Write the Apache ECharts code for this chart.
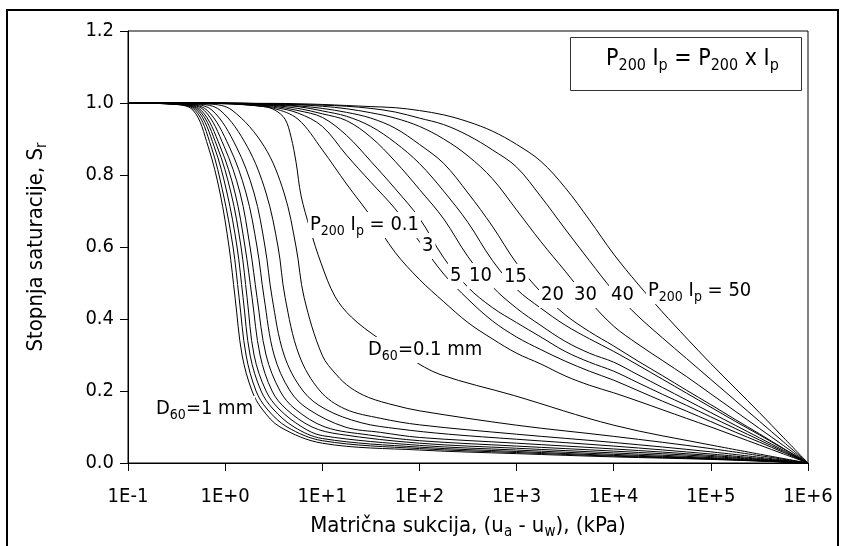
<!DOCTYPE html>
<html><head><meta charset="utf-8">
<script src="https://cdn.jsdelivr.net/npm/echarts@6/dist/echarts.min.js"></script>
<style>html,body{margin:0;padding:0;background:#fff}#c{width:846px;height:546px}</style>
</head><body><div id="c"></div>
<script>
const FONT = "'DejaVu Sans Condensed', 'Liberation Sans', sans-serif";

// tick labels
const xTickLabels = ['1E-1','1E+0','1E+1','1E+2','1E+3','1E+4','1E+5','1E+6'];
const yTickValues = [0, 0.2, 0.4, 0.6, 0.8, 1.0, 1.2];

// D60 family: [suction kPa, Sr]  (d1 = D60 1 mm ... d11 = D60 0.1 mm)
const d1 = [[0.1,1],[0.271,0.997],[0.467,0.98],[0.667,0.88],[0.886,0.75],[1.097,0.6],[1.265,0.46],[1.493,0.3],[1.892,0.2],[2.399,0.15],[3.677,0.1],[10,0.055],[100,0.036],[1000,0.026],[1e4,0.017],[1e5,0.01],[1e6,0]];
const d2 = [[0.1,1],[0.284,0.997],[0.49,0.98],[0.716,0.88],[0.952,0.75],[1.206,0.6],[1.391,0.46],[1.641,0.3],[2.081,0.2],[2.701,0.15],[4.341,0.1],[10,0.062],[100,0.04],[1000,0.029],[1e4,0.019],[1e5,0.011],[1e6,0]];
const d3 = [[0.1,1],[0.298,0.997],[0.514,0.98],[0.769,0.88],[1.046,0.75],[1.326,0.6],[1.529,0.46],[1.805,0.3],[2.343,0.2],[3.114,0.15],[5.125,0.1],[10,0.068],[100,0.044],[1000,0.032],[1e4,0.021],[1e5,0.012],[1e6,0]];
const d4 = [[0.1,1],[0.312,0.997],[0.538,0.98],[0.825,0.88],[1.15,0.75],[1.458,0.6],[1.681,0.46],[1.984,0.3],[2.637,0.2],[3.591,0.15],[6.194,0.1],[10,0.076],[100,0.049],[1000,0.036],[1e4,0.024],[1e5,0.013],[1e6,0]];
const d5 = [[0.1,1],[0.327,0.997],[0.565,0.98],[0.886,0.88],[1.265,0.75],[1.603,0.6],[1.892,0.46],[2.288,0.3],[3.041,0.2],[4.24,0.15],[7.852,0.1],[15,0.08],[100,0.055],[1000,0.041],[1e4,0.028],[1e5,0.015],[1e6,0]];
const d6 = [[0.1,1],[0.351,0.997],[0.606,0.98],[0.974,0.88],[1.424,0.75],[1.805,0.6],[2.131,0.46],[2.637,0.3],[3.677,0.2],[5.248,0.15],[10.69,0.1],[30,0.078],[100,0.062],[1000,0.047],[1e4,0.033],[1e5,0.018],[1e6,0]];
const d7 = [[0.1,1],[0.377,0.997],[0.651,0.98],[1.097,0.88],[1.641,0.75],[2.131,0.6],[2.515,0.46],[3.189,0.3],[4.661,0.2],[7.142,0.15],[17.17,0.1],[40,0.085],[100,0.071],[1000,0.055],[1e4,0.039],[1e5,0.021],[1e6,0]];
const d8 = [[0.1,1],[0.425,0.997],[0.733,0.98],[1.295,0.88],[1.984,0.75],[2.576,0.6],[3.041,0.46],[4.043,0.3],[6.343,0.2],[10.69,0.15],[25,0.112],[60,0.095],[200,0.08],[1000,0.066],[1e4,0.047],[1e5,0.025],[1e6,0]];
const d9 = [[0.1,1],[0.514,0.997],[0.886,0.98],[1.681,0.88],[2.637,0.75],[3.506,0.6],[4.14,0.46],[5.77,0.3],[9.491,0.2],[17.17,0.15],[40,0.124],[100,0.106],[1000,0.08],[1e4,0.057],[1e5,0.031],[1e6,0]];
const d10 = [[0.1,1],[0.683,0.997],[1.178,0.98],[2.515,0.88],[4.043,0.75],[5.374,0.6],[6.494,0.46],[9.953,0.3],[14,0.245],[19.33,0.21],[30,0.182],[56.21,0.16],[100,0.145],[1000,0.105],[1e4,0.074],[1e5,0.04],[1e6,0]];
const d11 = [[0.1,1],[1,0.998],[2.5,0.99],[3.265,0.98],[4.14,0.955],[4.772,0.905],[5.374,0.835],[6.05,0.742],[7.486,0.65],[9.719,0.555],[13.55,0.462],[20,0.405],[37.6,0.347],[80,0.29],[163,0.246],[925,0.188],[1e4,0.105],[1e5,0.05],[1e6,0]];

// P200*Ip family: Sr read at a common suction grid (kPa)
const pSuction = [0.1, 0.316, 1, 1.778, 3.162, 5.623, 10, 17.78, 31.62, 56.23, 100, 177.8, 316.2, 562.3, 1000, 1778, 3162, 5623, 1e4, 17783, 31623, 56234, 1e5, 177828, 316228, 562341, 1e6];
const p01 = [1, 1, 0.998, 0.994, 0.985, 0.955, 0.87, 0.775, 0.685, 0.585, 0.51, 0.448, 0.39, 0.345, 0.305, 0.275, 0.242, 0.216, 0.195, 0.172, 0.148, 0.124, 0.1, 0.075, 0.05, 0.025, 0];
const p3  = [1, 1, 0.999, 0.995, 0.988, 0.972, 0.935, 0.855, 0.78, 0.706, 0.615, 0.525, 0.455, 0.395, 0.35, 0.315, 0.283, 0.255, 0.23, 0.201, 0.172, 0.144, 0.115, 0.086, 0.058, 0.029, 0];
const p5  = [1, 1, 0.999, 0.996, 0.991, 0.979, 0.96, 0.91, 0.838, 0.762, 0.68, 0.57, 0.488, 0.432, 0.39, 0.35, 0.31, 0.28, 0.255, 0.223, 0.191, 0.16, 0.128, 0.096, 0.064, 0.032, 0];
const p10 = [1, 1, 0.999, 0.997, 0.993, 0.985, 0.97, 0.951, 0.905, 0.838, 0.76, 0.678, 0.573, 0.49, 0.43, 0.382, 0.338, 0.305, 0.28, 0.245, 0.21, 0.175, 0.14, 0.105, 0.07, 0.035, 0];
const p15 = [1, 1, 0.999, 0.997, 0.994, 0.99, 0.978, 0.963, 0.935, 0.89, 0.832, 0.755, 0.668, 0.563, 0.483, 0.43, 0.383, 0.345, 0.31, 0.272, 0.233, 0.194, 0.155, 0.116, 0.078, 0.039, 0];
const p20 = [1, 1, 0.999, 0.998, 0.996, 0.992, 0.985, 0.974, 0.958, 0.93, 0.885, 0.832, 0.75, 0.658, 0.555, 0.475, 0.412, 0.365, 0.325, 0.283, 0.243, 0.202, 0.162, 0.121, 0.081, 0.04, 0];
const p30 = [1, 1, 1, 0.999, 0.997, 0.995, 0.991, 0.984, 0.973, 0.958, 0.935, 0.9, 0.853, 0.79, 0.703, 0.615, 0.533, 0.45, 0.38, 0.33, 0.285, 0.24, 0.192, 0.144, 0.096, 0.048, 0];
const p40 = [1, 1, 1, 0.999, 0.998, 0.996, 0.994, 0.991, 0.985, 0.975, 0.958, 0.94, 0.91, 0.87, 0.822, 0.74, 0.65, 0.562, 0.477, 0.408, 0.348, 0.29, 0.232, 0.174, 0.116, 0.058, 0];
const p50 = [1, 1, 1, 0.999, 0.999, 0.998, 0.996, 0.993, 0.99, 0.987, 0.979, 0.967, 0.948, 0.922, 0.885, 0.838, 0.765, 0.675, 0.58, 0.497, 0.42, 0.347, 0.276, 0.208, 0.14, 0.07, 0];

// curve annotation texts
const curveLabels = [
  {t:'P{s|200} I{s|p} = 0.1', x:308, y:225},
  {t:'3', x:420, y:246},
  {t:'5', x:448, y:276},
  {t:'10', x:467, y:276},
  {t:'15', x:502, y:277},
  {t:'20', x:539, y:295},
  {t:'30', x:572, y:295},
  {t:'40', x:609, y:295},
  {t:'P{s|200} I{s|p} = 50', x:646, y:291},
  {t:'D{s|60}=0.1 mm', x:366, y:350},
  {t:'D{s|60}=1 mm', x:154, y:409}
];
const legendText = 'P{s|200} I{s|p} = P{s|200} x I{s|p}';

const dCurves = [d1,d2,d3,d4,d5,d6,d7,d8,d9,d10,d11];
const pCurves = [p01,p3,p5,p10,p15,p20,p30,p40,p50];

const rich = { s: { fontSize: 14, lineHeight: 14, verticalAlign: 'bottom', fontFamily: FONT, fill: '#000', color: '#000' } };
const richBig = { s: { fontSize: 16, lineHeight: 16, verticalAlign: 'bottom', fontFamily: FONT, fill: '#000', color: '#000' } };
const richName = { s: { fontSize: 15, lineHeight: 15, verticalAlign: 'bottom', fontFamily: FONT, fill: '#000', color: '#000' } };

const chart = echarts.init(document.getElementById('c'), null, {renderer: 'canvas'});

const lineBase = {type: 'line', symbol: 'none', showSymbol: false, smooth: 0.35,
  lineStyle: {color: '#000', width: 1}, silent: true, animation: false, z: 2};
const series = dCurves.map(c => Object.assign({}, lineBase, {data: c}))
  .concat(pCurves.map(ys => Object.assign({}, lineBase, {data: pSuction.map((s, i) => [s, ys[i]])})));

const graphics = [
  {type: 'rect', shape: {x: 7, y: 10, width: 831, height: 600}, style: {fill: 'none', stroke: '#000', lineWidth: 2}, z: 50, silent: true},
  {type: 'rect', shape: {x: 570.5, y: 37.5, width: 231, height: 53}, style: {fill: '#fff', stroke: '#333', lineWidth: 1}, z: 50, silent: true},
  {type: 'text', x: 606, y: 59, z: 60, silent: true,
    style: {text: legendText, fontSize: 23, lineHeight: 30, fontFamily: FONT, fill: '#000', align: 'left', verticalAlign: 'middle', rich: richBig}}
];
curveLabels.forEach(l => {
  graphics.push({type: 'text', x: l.x, y: l.y, z: 60, silent: true,
    style: {text: l.t, fontSize: 20, lineHeight: 26, fontFamily: FONT, fill: '#000', align: 'left', verticalAlign: 'middle',
            backgroundColor: '#fff', padding: [0, 2, 0, 2], rich: rich}});
});

chart.setOption({
  animation: false,
  backgroundColor: '#fff',
  grid: {left: 128, right: 38, top: 31, bottom: 83, show: true, borderColor: '#000', borderWidth: 1, backgroundColor: 'transparent'},
  xAxis: {
    type: 'log', logBase: 10, min: 0.1, max: 1e6, splitNumber: 7,
    name: 'Matrična sukcija, (u{s|a} - u{s|w}), (kPa)', nameLocation: 'middle', nameGap: 46,
    nameTextStyle: {fontSize: 22, lineHeight: 28, fontFamily: FONT, color: '#000', rich: richName},
    axisLine: {show: true, lineStyle: {color: '#000', width: 1}},
    axisTick: {show: true, inside: false, length: 8, lineStyle: {color: '#000'}},
    minorTick: {show: false},
    splitLine: {show: false},
    axisLabel: {fontSize: 20, fontFamily: FONT, color: '#000', margin: 24,
      formatter: v => xTickLabels[Math.round(Math.log10(v)) + 1]}
  },
  yAxis: {
    type: 'value', min: 0, max: 1.2, interval: 0.2,
    name: 'Stopnja saturacije, S{s|r}', nameLocation: 'middle', nameGap: 78,
    nameTextStyle: {fontSize: 22, lineHeight: 28, fontFamily: FONT, color: '#000', rich: richName},
    axisLine: {show: true, lineStyle: {color: '#000', width: 1}},
    axisTick: {show: true, inside: false, length: 8, lineStyle: {color: '#000'}},
    splitLine: {show: false},
    axisLabel: {fontSize: 20, fontFamily: FONT, color: '#000', margin: 14,
      formatter: v => (yTickValues.indexOf(Math.round(v * 10) / 10) >= 0 ? v.toFixed(1) : '')}
  },
  series: series,
  graphic: graphics
});
</script>
</body></html>
